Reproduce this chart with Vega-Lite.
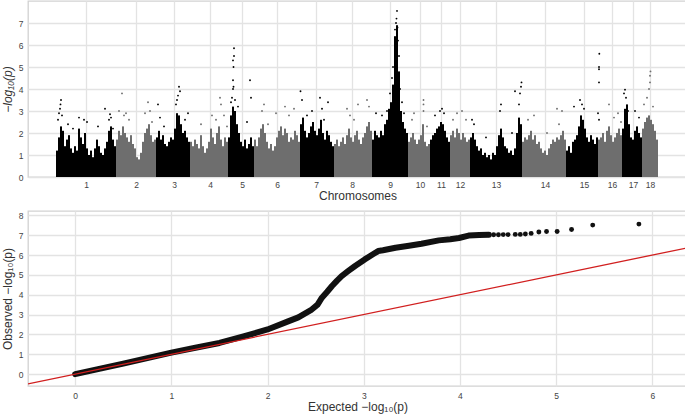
{
  "$schema": "https://vega.github.io/schema/vega-lite/v6.json",
  "padding": {"left": 0, "top": 0, "right": 0, "bottom": 0},
  "background": "white",
  "spacing": 34,
  "bounds": "flush",
  "config": {
    "font": "Liberation Sans",
    "view": {"stroke": "#d2d2d2", "strokeWidth": 1.3},
    "axis": {"domain": false, "ticks": false, "labelOverlap": false, "labelFlush": false, "labelBound": false, "gridColor": "#e3e3e3", "gridWidth": 1.3, "labelFont": "Liberation Sans", "labelFontSize": 8.5, "labelColor": "#444444", "titleFont": "Liberation Sans", "titleFontSize": 12, "titleFontWeight": "normal", "titleColor": "#333333"},
    "axisY": {"labelOverlap": false},
    "axisQuantitative": {"labelOverlap": false}
  },
  "datasets": {
    "bins": [
      {"c":1,"x":100,"h":1.2},{"c":1,"x":300,"h":1.8},{"c":1,"x":500,"h":2.3},{"c":1,"x":700,"h":2.1},{"c":1,"x":900,"h":1.4},{"c":1,"x":1100,"h":1.7},{"c":1,"x":1300,"h":1.9},{"c":1,"x":1500,"h":1.3},{"c":1,"x":1700,"h":1.1},{"c":1,"x":1900,"h":1.4},{"c":1,"x":2100,"h":1.2},{"c":1,"x":2300,"h":2.2},{"c":1,"x":2500,"h":1.8},{"c":1,"x":2700,"h":1.5},{"c":1,"x":2900,"h":2.0},{"c":1,"x":3100,"h":1.3},{"c":1,"x":3300,"h":1.0},{"c":1,"x":3500,"h":1.2},{"c":1,"x":3700,"h":0.9},{"c":1,"x":3900,"h":1.3},{"c":1,"x":4100,"h":1.7},{"c":1,"x":4300,"h":1.4},{"c":1,"x":4500,"h":1.1},{"c":1,"x":4700,"h":1.0},{"c":1,"x":4900,"h":1.3},{"c":1,"x":5100,"h":1.6},{"c":1,"x":5300,"h":2.1},{"c":1,"x":5500,"h":2.3},{"c":1,"x":5700,"h":1.7},{"c":1,"x":5900,"h":1.4},
      {"c":2,"x":6100,"h":1.7},{"c":2,"x":6300,"h":2.1},{"c":2,"x":6500,"h":1.9},{"c":2,"x":6700,"h":2.3},{"c":2,"x":6900,"h":2.0},{"c":2,"x":7100,"h":1.8},{"c":2,"x":7300,"h":1.6},{"c":2,"x":7500,"h":1.9},{"c":2,"x":7700,"h":1.5},{"c":2,"x":7900,"h":1.3},{"c":2,"x":8100,"h":0.9},{"c":2,"x":8300,"h":0.8},{"c":2,"x":8500,"h":1.1},{"c":2,"x":8700,"h":1.6},{"c":2,"x":8900,"h":2.0},{"c":2,"x":9100,"h":2.2},{"c":2,"x":9300,"h":2.4},{"c":2,"x":9500,"h":1.9},{"c":2,"x":9700,"h":1.6},{"c":2,"x":9900,"h":1.7},
      {"c":3,"x":10100,"h":1.8},{"c":3,"x":10300,"h":2.1},{"c":3,"x":10500,"h":1.7},{"c":3,"x":10700,"h":1.9},{"c":3,"x":10900,"h":1.5},{"c":3,"x":11100,"h":1.4},{"c":3,"x":11300,"h":1.6},{"c":3,"x":11500,"h":1.8},{"c":3,"x":11700,"h":1.7},{"c":3,"x":11900,"h":2.2},{"c":3,"x":12100,"h":2.9},{"c":3,"x":12300,"h":2.8},{"c":3,"x":12500,"h":2.4},{"c":3,"x":12700,"h":2.0},{"c":3,"x":12900,"h":2.1},{"c":3,"x":13100,"h":1.8},{"c":3,"x":13300,"h":1.6},
      {"c":4,"x":13500,"h":1.6},{"c":4,"x":13700,"h":1.4},{"c":4,"x":13900,"h":1.7},{"c":4,"x":14100,"h":1.5},{"c":4,"x":14300,"h":1.3},{"c":4,"x":14500,"h":1.9},{"c":4,"x":14700,"h":1.4},{"c":4,"x":14900,"h":1.1},{"c":4,"x":15100,"h":1.3},{"c":4,"x":15300,"h":1.6},{"c":4,"x":15500,"h":2.2},{"c":4,"x":15700,"h":1.8},{"c":4,"x":15900,"h":1.5},{"c":4,"x":16100,"h":2.0},{"c":4,"x":16300,"h":2.3},{"c":4,"x":16500,"h":1.7},{"c":4,"x":16700,"h":1.4},{"c":4,"x":16900,"h":1.8},{"c":4,"x":17100,"h":1.6},
      {"c":5,"x":17300,"h":1.8},{"c":5,"x":17500,"h":2.8},{"c":5,"x":17700,"h":3.2},{"c":5,"x":17900,"h":3.0},{"c":5,"x":18100,"h":2.4},{"c":5,"x":18300,"h":2.0},{"c":5,"x":18500,"h":1.6},{"c":5,"x":18700,"h":1.4},{"c":5,"x":18900,"h":1.7},{"c":5,"x":19100,"h":1.3},{"c":5,"x":19300,"h":1.5},{"c":5,"x":19500,"h":1.8},{"c":5,"x":19700,"h":1.4},
      {"c":6,"x":19900,"h":1.7},{"c":6,"x":20100,"h":1.4},{"c":6,"x":20300,"h":1.8},{"c":6,"x":20500,"h":2.2},{"c":6,"x":20700,"h":2.4},{"c":6,"x":20900,"h":2.0},{"c":6,"x":21100,"h":1.6},{"c":6,"x":21300,"h":1.3},{"c":6,"x":21500,"h":1.5},{"c":6,"x":21700,"h":1.2},{"c":6,"x":21900,"h":1.4},{"c":6,"x":22100,"h":1.8},{"c":6,"x":22300,"h":2.1},{"c":6,"x":22500,"h":2.3},{"c":6,"x":22700,"h":1.9},{"c":6,"x":22900,"h":2.2},{"c":6,"x":23100,"h":2.0},{"c":6,"x":23300,"h":1.6},{"c":6,"x":23500,"h":1.8},{"c":6,"x":23700,"h":1.7},{"c":6,"x":23900,"h":2.1},{"c":6,"x":24100,"h":1.9},{"c":6,"x":24300,"h":1.6},
      {"c":7,"x":24500,"h":2.4},{"c":7,"x":24700,"h":2.7},{"c":7,"x":24900,"h":2.1},{"c":7,"x":25100,"h":1.8},{"c":7,"x":25300,"h":2.0},{"c":7,"x":25500,"h":2.3},{"c":7,"x":25700,"h":2.5},{"c":7,"x":25900,"h":2.1},{"c":7,"x":26100,"h":1.9},{"c":7,"x":26300,"h":2.2},{"c":7,"x":26500,"h":2.6},{"c":7,"x":26700,"h":2.0},{"c":7,"x":26900,"h":1.7},{"c":7,"x":27100,"h":2.1},{"c":7,"x":27300,"h":1.9},{"c":7,"x":27500,"h":1.6},{"c":7,"x":27700,"h":1.4},
      {"c":8,"x":27900,"h":1.5},{"c":8,"x":28100,"h":1.7},{"c":8,"x":28300,"h":1.4},{"c":8,"x":28500,"h":1.6},{"c":8,"x":28700,"h":1.8},{"c":8,"x":28900,"h":1.5},{"c":8,"x":29100,"h":1.9},{"c":8,"x":29300,"h":2.2},{"c":8,"x":29500,"h":1.8},{"c":8,"x":29700,"h":1.6},{"c":8,"x":29900,"h":1.9},{"c":8,"x":30100,"h":2.1},{"c":8,"x":30300,"h":1.7},{"c":8,"x":30500,"h":1.5},{"c":8,"x":30700,"h":1.8},{"c":8,"x":30900,"h":2.0},{"c":8,"x":31100,"h":2.3},{"c":8,"x":31300,"h":2.5},{"c":8,"x":31500,"h":2.1},
      {"c":9,"x":31700,"h":1.7},{"c":9,"x":31900,"h":2.1},{"c":9,"x":32100,"h":1.9},{"c":9,"x":32300,"h":1.8},{"c":9,"x":32500,"h":2.1},{"c":9,"x":32700,"h":1.9},{"c":9,"x":32900,"h":2.4},{"c":9,"x":33100,"h":2.6},{"c":9,"x":33300,"h":3.1},{"c":9,"x":33500,"h":3.4},{"c":9,"x":33700,"h":4.2},{"c":9,"x":33900,"h":6.4},{"c":9,"x":34100,"h":6.9},{"c":9,"x":34300,"h":4.8},{"c":9,"x":34500,"h":3.0},{"c":9,"x":34700,"h":2.5},{"c":9,"x":34900,"h":2.2},{"c":9,"x":35100,"h":2.0},
      {"c":10,"x":35300,"h":1.6},{"c":10,"x":35500,"h":1.8},{"c":10,"x":35700,"h":2.0},{"c":10,"x":35900,"h":1.7},{"c":10,"x":36100,"h":1.5},{"c":10,"x":36300,"h":1.7},{"c":10,"x":36500,"h":1.9},{"c":10,"x":36700,"h":2.4},{"c":10,"x":36900,"h":1.6},{"c":10,"x":37100,"h":1.4},{"c":10,"x":37300,"h":1.5},
      {"c":11,"x":37500,"h":1.7},{"c":11,"x":37700,"h":1.9},{"c":11,"x":37900,"h":2.0},{"c":11,"x":38100,"h":2.2},{"c":11,"x":38300,"h":2.3},{"c":11,"x":38500,"h":2.5},{"c":11,"x":38700,"h":2.4},{"c":11,"x":38900,"h":2.1},{"c":11,"x":39100,"h":1.8},{"c":11,"x":39300,"h":1.6},
      {"c":12,"x":39500,"h":1.9},{"c":12,"x":39700,"h":2.1},{"c":12,"x":39900,"h":1.8},{"c":12,"x":40100,"h":2.2},{"c":12,"x":40300,"h":2.0},{"c":12,"x":40500,"h":1.7},{"c":12,"x":40700,"h":2.0},{"c":12,"x":40900,"h":1.8},{"c":12,"x":41100,"h":1.6},{"c":12,"x":41300,"h":1.7},
      {"c":13,"x":41500,"h":1.8},{"c":13,"x":41700,"h":2.0},{"c":13,"x":41900,"h":1.7},{"c":13,"x":42100,"h":1.4},{"c":13,"x":42300,"h":1.2},{"c":13,"x":42500,"h":1.3},{"c":13,"x":42700,"h":1.0},{"c":13,"x":42900,"h":1.1},{"c":13,"x":43100,"h":0.9},{"c":13,"x":43300,"h":1.0},{"c":13,"x":43500,"h":0.8},{"c":13,"x":43700,"h":1.1},{"c":13,"x":43900,"h":1.0},{"c":13,"x":44100,"h":1.4},{"c":13,"x":44300,"h":1.9},{"c":13,"x":44500,"h":2.2},{"c":13,"x":44700,"h":1.8},{"c":13,"x":44900,"h":1.4},{"c":13,"x":45100,"h":1.3},{"c":13,"x":45300,"h":1.1},{"c":13,"x":45500,"h":1.2},{"c":13,"x":45700,"h":1.0},{"c":13,"x":45900,"h":1.3},{"c":13,"x":46100,"h":2.0},{"c":13,"x":46300,"h":2.7},{"c":13,"x":46500,"h":2.4},
      {"c":14,"x":46700,"h":1.6},{"c":14,"x":46900,"h":1.8},{"c":14,"x":47100,"h":1.7},{"c":14,"x":47300,"h":1.9},{"c":14,"x":47500,"h":2.1},{"c":14,"x":47700,"h":1.7},{"c":14,"x":47900,"h":1.9},{"c":14,"x":48100,"h":1.5},{"c":14,"x":48300,"h":1.6},{"c":14,"x":48500,"h":1.3},{"c":14,"x":48700,"h":1.1},{"c":14,"x":48900,"h":1.2},{"c":14,"x":49100,"h":1.0},{"c":14,"x":49300,"h":1.3},{"c":14,"x":49500,"h":1.5},{"c":14,"x":49700,"h":1.7},{"c":14,"x":49900,"h":1.6},{"c":14,"x":50100,"h":1.8},{"c":14,"x":50300,"h":1.7},{"c":14,"x":50500,"h":1.9},{"c":14,"x":50700,"h":2.1},{"c":14,"x":50900,"h":1.7},
      {"c":15,"x":51100,"h":1.2},{"c":15,"x":51300,"h":1.4},{"c":15,"x":51500,"h":1.1},{"c":15,"x":51700,"h":1.6},{"c":15,"x":51900,"h":1.7},{"c":15,"x":52100,"h":1.9},{"c":15,"x":52300,"h":2.3},{"c":15,"x":52500,"h":2.8},{"c":15,"x":52700,"h":2.6},{"c":15,"x":52900,"h":2.2},{"c":15,"x":53100,"h":1.8},{"c":15,"x":53300,"h":1.6},{"c":15,"x":53500,"h":1.9},{"c":15,"x":53700,"h":1.7},{"c":15,"x":53900,"h":1.5},{"c":15,"x":54100,"h":1.8},
      {"c":16,"x":54300,"h":1.7},{"c":16,"x":54500,"h":1.8},{"c":16,"x":54700,"h":2.0},{"c":16,"x":54900,"h":1.6},{"c":16,"x":55100,"h":2.1},{"c":16,"x":55300,"h":2.3},{"c":16,"x":55500,"h":1.9},{"c":16,"x":55700,"h":1.6},{"c":16,"x":55900,"h":1.8},{"c":16,"x":56100,"h":2.0},{"c":16,"x":56300,"h":2.2},{"c":16,"x":56500,"h":1.9},
      {"c":17,"x":56700,"h":2.2},{"c":17,"x":56900,"h":3.1},{"c":17,"x":57100,"h":3.3},{"c":17,"x":57300,"h":2.4},{"c":17,"x":57500,"h":1.8},{"c":17,"x":57700,"h":1.7},{"c":17,"x":57900,"h":2.1},{"c":17,"x":58100,"h":2.3},{"c":17,"x":58300,"h":2.0},{"c":17,"x":58500,"h":1.8},
      {"c":18,"x":58700,"h":2.2},{"c":18,"x":58900,"h":2.5},{"c":18,"x":59100,"h":2.7},{"c":18,"x":59300,"h":2.8},{"c":18,"x":59500,"h":2.6},{"c":18,"x":59700,"h":2.4},{"c":18,"x":59900,"h":2.1},{"c":18,"x":60100,"h":1.7}
    ],
    "pts": [
      {"c":1,"x":200,"p":2.6},{"c":1,"x":300,"p":2.9},{"c":1,"x":400,"p":3.1},{"c":1,"x":450,"p":3.3},{"c":1,"x":500,"p":3.5},{"c":1,"x":600,"p":2.8},{"c":1,"x":1200,"p":2.4},{"c":1,"x":1700,"p":2.2},{"c":1,"x":2300,"p":2.7},{"c":1,"x":2800,"p":2.6},{"c":1,"x":3100,"p":2.5},{"c":1,"x":4200,"p":2.3},{"c":1,"x":4900,"p":3.1},{"c":1,"x":5300,"p":2.6},{"c":1,"x":5400,"p":2.85},{"c":1,"x":5500,"p":2.7},{"c":1,"x":5700,"p":2.2},
      {"c":2,"x":6300,"p":3.0},{"c":2,"x":6600,"p":3.8},{"c":2,"x":6800,"p":2.8},{"c":2,"x":7000,"p":2.9},{"c":2,"x":7300,"p":2.6},{"c":2,"x":8900,"p":2.9},{"c":2,"x":9200,"p":3.4},{"c":2,"x":9400,"p":3.0},{"c":2,"x":9600,"p":2.5},
      {"c":3,"x":10200,"p":3.3},{"c":3,"x":10400,"p":2.7},{"c":3,"x":10800,"p":2.3},{"c":3,"x":12000,"p":3.3},{"c":3,"x":12100,"p":3.5},{"c":3,"x":12200,"p":3.7},{"c":3,"x":12300,"p":4.1},{"c":3,"x":12400,"p":3.9},{"c":3,"x":12900,"p":2.6},{"c":3,"x":13200,"p":2.9},
      {"c":4,"x":14500,"p":2.4},{"c":4,"x":15600,"p":2.8},{"c":4,"x":16000,"p":2.6},{"c":4,"x":16400,"p":3.6},{"c":4,"x":16500,"p":3.3},{"c":4,"x":16800,"p":2.8},{"c":4,"x":17100,"p":2.3},
      {"c":5,"x":17500,"p":3.4},{"c":5,"x":17600,"p":3.6},{"c":5,"x":17700,"p":4.0},{"c":5,"x":17750,"p":4.1},{"c":5,"x":17700,"p":4.4},{"c":5,"x":17750,"p":5.0},{"c":5,"x":17700,"p":5.3},{"c":5,"x":17800,"p":5.5},{"c":5,"x":17800,"p":5.85},{"c":5,"x":17900,"p":3.5},{"c":5,"x":18200,"p":3.2},{"c":5,"x":19400,"p":4.4},{"c":5,"x":19500,"p":3.6},{"c":5,"x":19100,"p":2.5},
      {"c":6,"x":20600,"p":3.0},{"c":6,"x":20800,"p":3.3},{"c":6,"x":21200,"p":2.4},{"c":6,"x":22000,"p":2.9},{"c":6,"x":22900,"p":3.2},{"c":6,"x":23300,"p":2.8},{"c":6,"x":23800,"p":3.1},
      {"c":7,"x":24450,"p":3.9},{"c":7,"x":24600,"p":3.5},{"c":7,"x":25100,"p":2.8},{"c":7,"x":25600,"p":3.0},{"c":7,"x":26400,"p":3.6},{"c":7,"x":26600,"p":3.1},{"c":7,"x":27200,"p":3.4},{"c":7,"x":26800,"p":2.6},
      {"c":8,"x":29100,"p":3.1},{"c":8,"x":29400,"p":2.8},{"c":8,"x":29800,"p":2.6},{"c":8,"x":30200,"p":3.3},{"c":8,"x":31100,"p":3.5},{"c":8,"x":31300,"p":3.2},
      {"c":9,"x":32000,"p":2.9},{"c":9,"x":32600,"p":2.8},{"c":9,"x":33100,"p":3.0},{"c":9,"x":33400,"p":3.8},{"c":9,"x":33600,"p":4.5},{"c":9,"x":33700,"p":5.0},{"c":9,"x":33900,"p":6.7},{"c":9,"x":34000,"p":7.0},{"c":9,"x":34050,"p":7.2},{"c":9,"x":34100,"p":7.55},{"c":9,"x":34150,"p":6.8},{"c":9,"x":34200,"p":6.2},{"c":9,"x":34300,"p":5.5},{"c":9,"x":34400,"p":4.0},{"c":9,"x":34600,"p":3.4},{"c":9,"x":34800,"p":2.9},
      {"c":10,"x":35600,"p":2.6},{"c":10,"x":35800,"p":2.9},{"c":10,"x":36750,"p":3.0},{"c":10,"x":36750,"p":3.3},{"c":10,"x":36750,"p":3.5},{"c":10,"x":37100,"p":2.3},
      {"c":11,"x":37900,"p":2.8},{"c":11,"x":38400,"p":3.0},{"c":11,"x":38600,"p":3.1},{"c":11,"x":38800,"p":2.9},
      {"c":12,"x":39700,"p":2.6},{"c":12,"x":40100,"p":2.9},{"c":12,"x":40600,"p":3.0},{"c":12,"x":41000,"p":2.6},
      {"c":13,"x":41600,"p":2.6},{"c":13,"x":41800,"p":2.4},{"c":13,"x":43000,"p":1.8},{"c":13,"x":44400,"p":3.0},{"c":13,"x":44500,"p":3.3},{"c":13,"x":45600,"p":2.0},{"c":13,"x":45900,"p":3.9},{"c":13,"x":46300,"p":3.3},{"c":13,"x":46400,"p":3.8},{"c":13,"x":46500,"p":4.1},{"c":13,"x":46550,"p":4.3},
      {"c":14,"x":47200,"p":2.6},{"c":14,"x":47800,"p":2.8},{"c":14,"x":49100,"p":2.0},{"c":14,"x":50100,"p":3.1},{"c":14,"x":50300,"p":2.4},{"c":14,"x":50600,"p":3.0},
      {"c":15,"x":51800,"p":3.2},{"c":15,"x":52400,"p":3.5},{"c":15,"x":52600,"p":3.3},{"c":15,"x":52800,"p":3.1},{"c":15,"x":54200,"p":2.9},{"c":15,"x":54300,"p":2.6},{"c":15,"x":54300,"p":4.3},{"c":15,"x":54300,"p":4.9},{"c":15,"x":54300,"p":5.0},{"c":15,"x":54330,"p":5.6},
      {"c":16,"x":55300,"p":3.3},{"c":16,"x":55800,"p":2.7},{"c":16,"x":56200,"p":2.9},{"c":16,"x":56500,"p":2.5},
      {"c":17,"x":56800,"p":3.8},{"c":17,"x":56900,"p":3.97},{"c":17,"x":57000,"p":3.6},{"c":17,"x":57200,"p":3.0},{"c":17,"x":57900,"p":3.0},{"c":17,"x":58300,"p":2.7},
      {"c":18,"x":58800,"p":3.3},{"c":18,"x":59100,"p":3.6},{"c":18,"x":59300,"p":4.0},{"c":18,"x":59400,"p":4.3},{"c":18,"x":59400,"p":4.6},{"c":18,"x":59450,"p":4.8},{"c":18,"x":59700,"p":3.2}
    ],
    "qq": [
      {"e":0,"o":0},{"e":0.5,"o":0.53},{"e":1.0,"o":1.08},{"e":1.25,"o":1.33},{"e":1.5,"o":1.57},{"e":1.75,"o":1.9},{"e":2.0,"o":2.25},{"e":2.22,"o":2.67},{"e":2.32,"o":2.86},{"e":2.45,"o":3.22},{"e":2.52,"o":3.5},{"e":2.565,"o":3.85},{"e":2.62,"o":4.15},{"e":2.67,"o":4.44},{"e":2.72,"o":4.7},{"e":2.77,"o":4.94},{"e":2.84,"o":5.2},{"e":2.91,"o":5.45},{"e":3.01,"o":5.78},{"e":3.1,"o":6.05},{"e":3.15,"o":6.2},{"e":3.2,"o":6.24},{"e":3.33,"o":6.37},{"e":3.47,"o":6.47},{"e":3.6,"o":6.57},{"e":3.78,"o":6.74},{"e":3.9,"o":6.8},{"e":3.99,"o":6.86},{"e":4.09,"o":6.98},{"e":4.2,"o":7.01},{"e":4.3,"o":7.02}
    ],
    "tail": [
      {"e":4.3,"o":7.02},{"e":4.35,"o":7.02},{"e":4.4,"o":7.02},{"e":4.45,"o":7.03},{"e":4.5,"o":7.03},{"e":4.575,"o":7.04},{"e":4.627,"o":7.04},{"e":4.68,"o":7.06},{"e":4.74,"o":7.09},{"e":4.82,"o":7.16},{"e":4.9,"o":7.19},{"e":5.01,"o":7.19},{"e":5.16,"o":7.29},{"e":5.38,"o":7.51},{"e":5.86,"o":7.56}
    ],
    "diag": [{"e":-0.49,"o":-0.49},{"e":6.36,"o":6.36}]
  },
  "vconcat": [
    {
      "width": 659,
      "height": 176,
      "encoding": {
        "x": {"type": "quantitative", "scale": {"domain": [-2800, 63100], "nice": false, "zero": false},
          "axis": {"values": [3000,8000,11800,15400,18600,22100,26000,29600,33400,36400,38500,40400,44000,48900,52800,55600,57700,59400],
            "labelExpr": "toString(indexof([3000,8000,11800,15400,18600,22100,26000,29600,33400,36400,38500,40400,44000,48900,52800,55600,57700,59400], datum.value) + 1)",
            "labelOverlap": false, "title": "Chromosomes", "labelPadding": 3, "titlePadding": 2}},
        "y": {"type": "quantitative", "scale": {"domain": [0, 8], "nice": false, "zero": false},
          "axis": {"values": [0,1,2,3,4,5,6,7], "format": "d", "labelOverlap": false, "title": "−log₁₀(p)", "titleFontStyle": "italic", "labelPadding": 5, "titlePadding": 4}}
      },
      "layer": [
        {
          "data": {"name": "bins"},
          "mark": {"type": "rule", "strokeWidth": 2.05},
          "encoding": {
            "x": {"field": "x", "type": "quantitative"},
            "y": {"field": "h", "type": "quantitative"},
            "y2": {"datum": 0},
            "color": {"field": "c", "type": "nominal", "legend": null,
              "scale": {"domain": [1,2,3,4,5,6,7,8,9,10,11,12,13,14,15,16,17,18],
                "range": ["#000000","#6e6e6e","#000000","#6e6e6e","#000000","#6e6e6e","#000000","#6e6e6e","#000000","#6e6e6e","#000000","#6e6e6e","#000000","#6e6e6e","#000000","#6e6e6e","#000000","#6e6e6e"]}}
          }
        },
        {
          "data": {"name": "pts"},
          "mark": {"type": "circle", "size": 3.5, "opacity": 1},
          "encoding": {
            "x": {"field": "x", "type": "quantitative"},
            "y": {"field": "p", "type": "quantitative"},
            "color": {"field": "c", "type": "nominal", "legend": null}
          }
        },
        {
          "mark": {"type": "rule", "color": "#d11f1f", "strokeWidth": 1.5},
          "encoding": {"y": {"datum": 6.37}}
        }
      ]
    },
    {
      "width": 659,
      "height": 175,
      "encoding": {
        "x": {"field": "e", "type": "quantitative", "scale": {"domain": [-0.49, 6.36], "nice": false, "zero": false},
          "axis": {"values": [0,1,2,3,4,5,6], "format": "d", "labelOverlap": false, "title": "Expected −log₁₀(p)", "labelPadding": 5, "titlePadding": 2}},
        "y": {"field": "o", "type": "quantitative", "scale": {"domain": [-0.6, 8.22], "nice": false, "zero": false},
          "axis": {"values": [0,1,2,3,4,5,6,7,8], "format": "d", "labelOverlap": false, "title": "Observed −log₁₀(p)", "labelPadding": 5, "titlePadding": 4}}
      },
      "layer": [
        {
          "data": {"name": "qq"},
          "mark": {"type": "line", "color": "#111111", "strokeWidth": 6, "strokeCap": "round", "strokeJoin": "round"}
        },
        {
          "data": {"name": "tail"},
          "mark": {"type": "circle", "size": 24, "color": "#111111", "opacity": 1}
        },
        {
          "data": {"name": "diag"},
          "mark": {"type": "line", "color": "#d11f1f", "strokeWidth": 1.3, "clip": true}
        }
      ]
    }
  ]
}
